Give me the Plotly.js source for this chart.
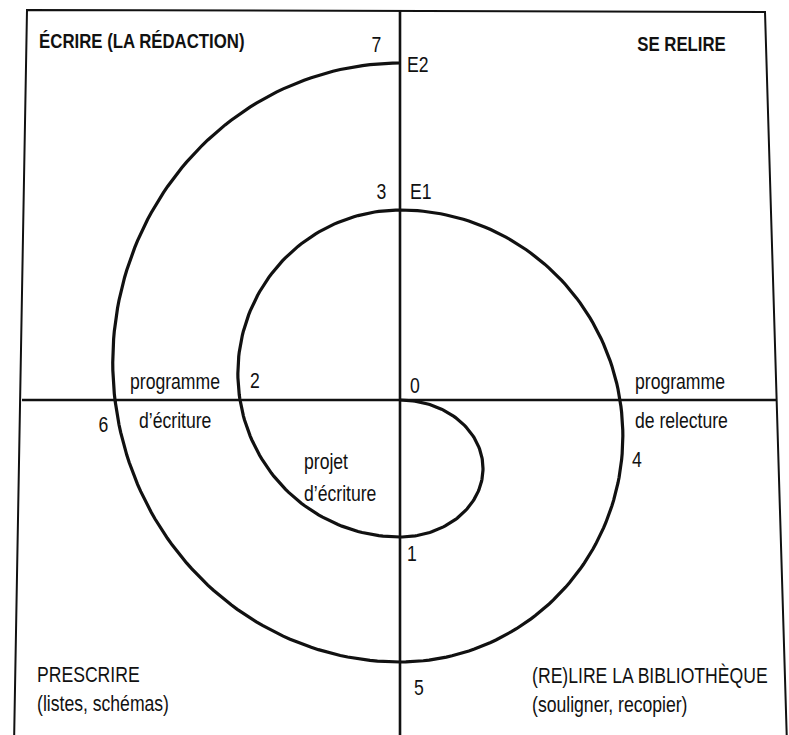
<!DOCTYPE html>
<html>
<head>
<meta charset="utf-8">
<script src="https://cdn.plot.ly/plotly-3.0.1.min.js"></script>
<style>html,body{margin:0;padding:0;background:#fff;}#chart{width:789px;height:735px;}</style>
</head>
<body>
<div id="chart"></div>
<script>
// Spiral crossing points on the two axes (step 0..7)
const stepLabels = ['0', '1', '2', '3', '4', '5', '6', '7'];
const crossX = [0, 0, -160, 0, 220, 0, -285, 0];
const crossY = [0, -137, 0, 190, 0, -262, 0, 337];
const loopWidth = 83; // widest point of the first loop (0 -> 1)

// Quadrant titles and axis labels
const quadrantTitles = ['ÉCRIRE (LA RÉDACTION)', 'SE RELIRE', 'PRESCRIRE', '(RE)LIRE LA BIBLIOTHÈQUE'];
const quadrantSubtitles = ['', '', '(listes, schémas)', '(souligner, recopier)'];
const axisMarks = ['E1', 'E2'];
const stageLabels = ['programme', 'd\u2019écriture', 'programme', 'de relecture', 'projet', 'd\u2019écriture'];

// segments of the spiral: [start index, end index, index of the horizontal-axis crossing or -1, side]
const segments = [[0, 1, -1, 1], [1, 3, 2, -1], [3, 5, 4, 1], [5, 7, 6, -1]];

const sx = [], sy = [];
segments.forEach(function (seg) {
  const y0 = crossY[seg[0]], y1 = crossY[seg[1]];
  const yc = (y0 + y1) / 2, h = Math.abs(y0 - y1) / 2;
  const w = seg[2] < 0 ? loopWidth : Math.abs(crossX[seg[2]]) / Math.sqrt(1 - (yc / h) * (yc / h));
  const N = 120;
  for (let t = 0; t <= N; t++) {
    const th = Math.PI * t / N;
    sx.push(seg[3] * w * Math.sin(th));
    sy.push(yc + (y0 - yc) * Math.cos(th));
  }
});

const FONT = 'Liberation Sans, Arial, sans-serif';
const fs = 22;
const SQUEEZE = 0.8; // horizontal condensing of the label font
function ann(text, x, y, xanchor, bold, size) {
  return {
    text: bold ? '<b>' + text + '</b>' : text, x: x, y: y, xref: 'x', yref: 'y',
    xanchor: xanchor || 'left', yanchor: 'middle', showarrow: false,
    font: {family: FONT, size: size || fs, color: '#111'}
  };
}

const annotations = [
  ann(quadrantTitles[0], -363, 360, 'left', true, 21),
  ann(quadrantTitles[1], 328, 357, 'right', true, 21),
  ann(quadrantTitles[2], -365, -274, 'left'),
  ann(quadrantSubtitles[2], -365, -303, 'left'),
  ann(quadrantTitles[3], 130, -275, 'left'),
  ann(quadrantSubtitles[3], 130, -304, 'left'),
  ann(axisMarks[1], 5, 336, 'left'),
  ann(axisMarks[0], 8, 209, 'left'),
  ann(stageLabels[0], -272, 19, 'left'),
  ann(stageLabels[1], -263, -20, 'left'),
  ann(stageLabels[2], 233, 19, 'left'),
  ann(stageLabels[3], 233, -20, 'left'),
  ann(stageLabels[4], -98, -61, 'left'),
  ann(stageLabels[5], -98, -93, 'left'),
  // step numbers
  ann(stepLabels[0], 8, 15, 'left'),
  ann(stepLabels[1], 5, -153, 'left'),
  ann(stepLabels[2], -152, 20, 'left'),
  ann(stepLabels[3], -12, 209, 'right'),
  ann(stepLabels[4], 230, -59, 'left'),
  ann(stepLabels[5], 12, -287, 'left'),
  ann(stepLabels[6], -290, -24, 'right'),
  ann(stepLabels[7], -17, 356, 'right')
];

const shapes = [
  {type: 'path', path: 'M -386,-345 L -373,390 L 365,388 L 387,-345', xref: 'x', yref: 'y',
   line: {color: '#111', width: 2}},
  {type: 'line', x0: -378, x1: 377, y0: 0, y1: 0, xref: 'x', yref: 'y', line: {color: '#111', width: 2.6}},
  {type: 'line', x0: 0, x1: 0, y0: 390, y1: -345, xref: 'x', yref: 'y', line: {color: '#111', width: 2.6}}
];

const trace = {x: sx, y: sy, mode: 'lines', type: 'scatter', line: {color: '#111', width: 3.2}, hoverinfo: 'skip'};

Plotly.newPlot('chart', [trace], {
  width: 789, height: 735,
  margin: {l: 0, r: 0, t: 0, b: 0},
  paper_bgcolor: '#fff', plot_bgcolor: '#fff',
  showlegend: false,
  xaxis: {range: [-400, 389], visible: false, fixedrange: true},
  yaxis: {range: [-335, 400], visible: false, fixedrange: true},
  shapes: shapes,
  annotations: annotations
}, {displayModeBar: false, staticPlot: true}).then(function (gd) {
  // condense the label text horizontally, keeping each label's anchor edge fixed
  annotations.forEach(function (a, i) {
    const t = gd.querySelector('g.annotation[data-index="' + i + '"] text.annotation-text');
    if (!t) return;
    const bb = t.getBBox();
    const ax = a.xanchor === 'right' ? bb.x + bb.width : bb.x;
    t.setAttribute('transform', 'translate(' + ax + ',0) scale(' + SQUEEZE + ',1) translate(' + (-ax) + ',0)');
  });
});
</script>
</body>
</html>
